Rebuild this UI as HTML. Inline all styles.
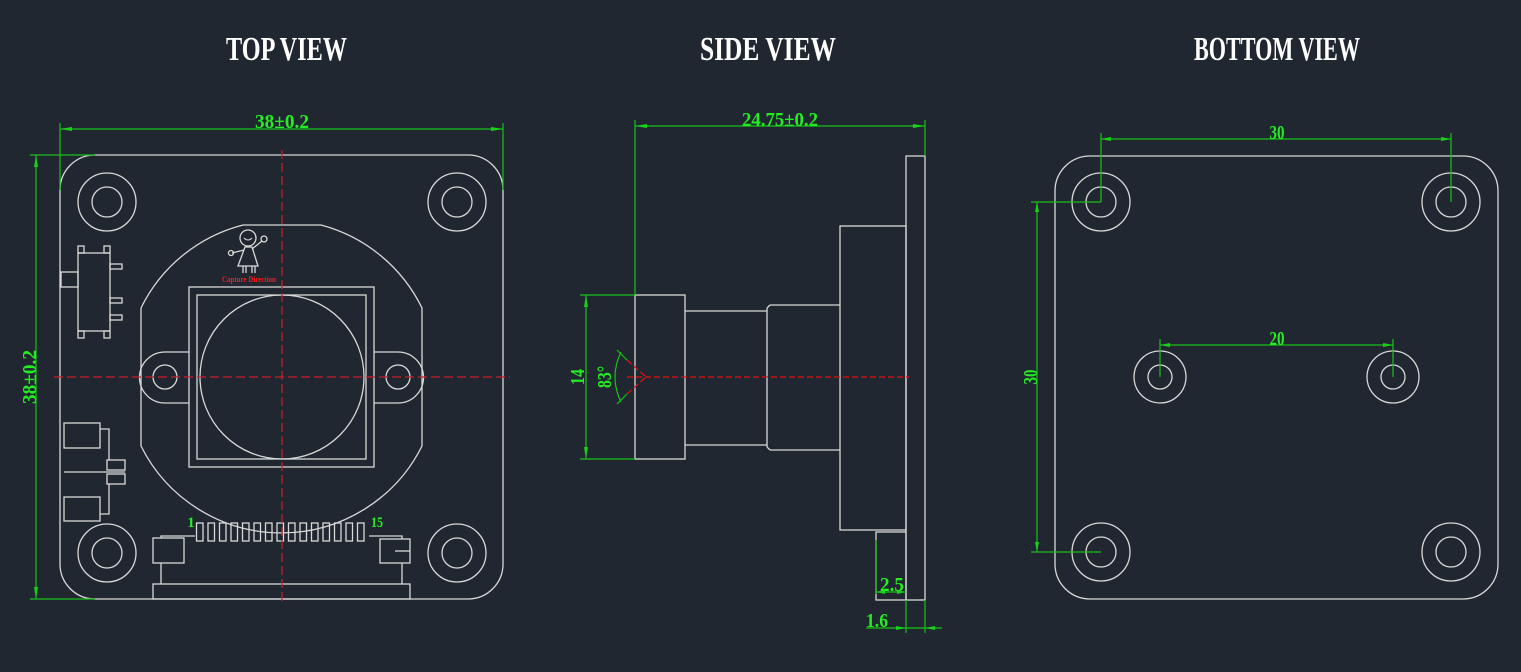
<!DOCTYPE html>
<html><head><meta charset="utf-8"><style>
html,body{margin:0;padding:0;background:#212730;}
svg{display:block}
</style></head><body>
<svg width="1521" height="672" viewBox="0 0 1521 672" xmlns="http://www.w3.org/2000/svg" font-family="'Liberation Serif', serif">
<rect width="1521" height="672" fill="#212730"/>
<g fill="#ffffff" font-size="34" font-weight="bold">
<text x="226" y="60" textLength="121" lengthAdjust="spacingAndGlyphs">TOP VIEW</text>
<text x="700" y="60" textLength="136" lengthAdjust="spacingAndGlyphs">SIDE VIEW</text>
<text x="1194" y="60" textLength="166" lengthAdjust="spacingAndGlyphs">BOTTOM VIEW</text>
</g>

<g fill="none" stroke="#d8d8d8" stroke-width="1.3">
<rect x="60" y="155" width="443" height="444" rx="35"/>
<circle cx="107" cy="202" r="29"/><circle cx="107" cy="202" r="15"/>
<circle cx="457" cy="202" r="29"/><circle cx="457" cy="202" r="15"/>
<circle cx="107" cy="553" r="29"/><circle cx="107" cy="553" r="15"/>
<circle cx="457" cy="553" r="29"/><circle cx="457" cy="553" r="15"/>
<path d="M243,225 L321,225 A157,157 0 0 1 422,308 L422,446 A157,157 0 0 1 141,446 L141,308 A157,157 0 0 1 243,225 Z"/>
<path d="M189,352 L165,352 A25.5,25.5 0 0 0 165,403 L189,403"/>
<path d="M374,352 L398,352 A25.5,25.5 0 0 1 398,403 L374,403"/>
<circle cx="165" cy="377" r="12"/><circle cx="398" cy="377" r="12"/>
<rect x="189" y="287" width="185" height="180" fill="#212730"/>
<rect x="197" y="295" width="169" height="164"/>
<circle cx="282" cy="377" r="82"/>
<rect x="78" y="253" width="32" height="78"/>
<rect x="61" y="272" width="17" height="15"/>
<rect x="78" y="246" width="6" height="7"/><rect x="104" y="246" width="6" height="7"/>
<rect x="78" y="331" width="6" height="7"/><rect x="104" y="331" width="6" height="7"/>
<rect x="110" y="264" width="12" height="5"/><rect x="110" y="298" width="12" height="5"/><rect x="110" y="315" width="12" height="5"/>
<rect x="64" y="423" width="36" height="25"/>
<rect x="64" y="497" width="36" height="24"/>
<path d="M100,429 L109,429 L109,460 M100,514 L109,514 L109,484 M64,472 L125,472"/>
<rect x="107" y="460" width="18" height="10"/>
<rect x="107" y="474" width="18" height="10"/>
<g>
<rect x="196.5" y="523" width="6.5" height="18"/><rect x="208" y="523" width="6.5" height="18"/><rect x="219.5" y="523" width="6.5" height="18"/><rect x="231" y="523" width="6.5" height="18"/><rect x="242.5" y="523" width="6.5" height="18"/><rect x="254" y="523" width="6.5" height="18"/><rect x="265.5" y="523" width="6.5" height="18"/><rect x="277" y="523" width="6.5" height="18"/><rect x="288.5" y="523" width="6.5" height="18"/><rect x="300" y="523" width="6.5" height="18"/><rect x="311.5" y="523" width="6.5" height="18"/><rect x="323" y="523" width="6.5" height="18"/><rect x="334.5" y="523" width="6.5" height="18"/><rect x="346" y="523" width="6.5" height="18"/><rect x="357.5" y="523" width="6.5" height="18"/>
</g>
<path d="M161,538 L161,536 L195,536 M369,536 L402,536 L402,539"/>
<rect x="153" y="538" width="31" height="25"/>
<rect x="380" y="539" width="30" height="24"/>
<path d="M395,551 L410,551"/>
<path d="M161,563 L161,584 M402,563 L402,584"/>
<rect x="153" y="584" width="257" height="15"/>
<circle cx="248" cy="238" r="8"/>
<path d="M244,238 Q248,242 252,238" stroke-width="1"/>
<path d="M245,247 L238,266 L258,266 L252,247 Z"/>
<path d="M244,250 L232,253 M252,249 L262,241"/>
<circle cx="231" cy="253" r="2.5"/><circle cx="264" cy="239" r="3"/>
<path d="M243,266 L243,273 M246,266 L246,273 M252,266 L252,273 M255,266 L255,273"/>
</g>
<text x="249" y="282" fill="#ff1a1a" font-size="8" font-weight="bold" text-anchor="middle" textLength="54" lengthAdjust="spacingAndGlyphs">Capture Direction</text>
<g stroke="#c8202a" stroke-width="1.2" stroke-dasharray="9,4" fill="none">
<path d="M282,150 L282,605"/>
<path d="M54,377 L510,377"/>
</g>
<g stroke="#19c019" stroke-width="1.2" fill="none">
<path d="M60,123 L60,190 M503,123 L503,190 M60,129 L503,129"/>
<path d="M30,155 L95,155 M30,599 L95,599 M36,155 L36,599"/>
</g>
<g fill="#19d019">
<path d="M60,129 L72,127 L72,131Z M503,129 L491,127 L491,131Z M36,155 L34,167 L38,167Z M36,599 L34,587 L38,587Z"/>
</g>
<g fill="#22ee22" font-size="20" font-weight="bold">
<text x="282" y="128" text-anchor="middle" textLength="54" lengthAdjust="spacingAndGlyphs">38±0.2</text>
<text transform="translate(36,377) rotate(-90)" x="0" y="0" text-anchor="middle" textLength="54" lengthAdjust="spacingAndGlyphs">38±0.2</text>
<text x="191" y="527" text-anchor="middle" font-size="15">1</text>
<text x="377" y="527" text-anchor="middle" font-size="15" textLength="12" lengthAdjust="spacingAndGlyphs">15</text>
</g>

<g fill="none" stroke="#d8d8d8" stroke-width="1.3">
<rect x="635" y="295" width="50" height="164"/>
<path d="M685,311 L767,311 M685,445 L767,445"/>
<path d="M770,305 L840,305 M770,450 L840,450 M767,308 L767,447 M767,308 L770,305 M767,447 L770,450"/>
<rect x="840" y="226" width="66" height="304"/>
<rect x="906" y="156" width="19" height="444"/>
<rect x="876" y="532" width="30" height="68"/>
</g>
<g stroke="#e01010" stroke-width="1.2" stroke-dasharray="6,3" fill="none">
<path d="M627,377 L909,377"/>
<path d="M627,360 L646,377 L627,394"/>
</g>
<g stroke="#19c019" stroke-width="1.2" fill="none">
<path d="M635,120 L635,295 M925,120 L925,156 M635,126 L925,126"/>
<path d="M580,295 L635,295 M580,459 L635,459 M586,295 L586,459"/>
<path d="M621,352 Q609,377 621,402 M617,350 L627,360 M617,404 L627,394"/>
<path d="M876,540 L876,594 M876,592 L906,592"/>
<path d="M906,600 L906,633 M925,600 L925,633 M866,628 L942,628"/>
</g>
<g fill="#19d019">
<path d="M635,126 L647,124 L647,128Z M925,126 L913,124 L913,128Z M586,295 L584,307 L588,307Z M586,459 L584,447 L588,447Z"/>
<path d="M876,592 L885,590 L885,594Z M906,592 L897,590 L897,594Z M906,628 L896,626 L896,630Z M925,628 L935,626 L935,630Z"/>
</g>
<g fill="#22ee22" font-size="20" font-weight="bold">
<text x="780" y="126" text-anchor="middle" textLength="76" lengthAdjust="spacingAndGlyphs">24.75±0.2</text>
<text transform="translate(584,377) rotate(-90)" text-anchor="middle" textLength="16" lengthAdjust="spacingAndGlyphs">14</text>
<text transform="translate(611,377) rotate(-90)" text-anchor="middle" textLength="22" lengthAdjust="spacingAndGlyphs">83°</text>
<text x="892" y="591" text-anchor="middle" textLength="24" lengthAdjust="spacingAndGlyphs">2.5</text>
<text x="877" y="627" text-anchor="middle" textLength="22" lengthAdjust="spacingAndGlyphs">1.6</text>
</g>

<g fill="none" stroke="#d8d8d8" stroke-width="1.3">
<rect x="1055" y="156" width="443" height="443" rx="35"/>
<circle cx="1101" cy="202" r="29"/><circle cx="1101" cy="202" r="15"/>
<circle cx="1451" cy="202" r="29"/><circle cx="1451" cy="202" r="15"/>
<circle cx="1101" cy="552" r="29"/><circle cx="1101" cy="552" r="15"/>
<circle cx="1451" cy="552" r="29"/><circle cx="1451" cy="552" r="15"/>
<circle cx="1160" cy="377" r="26"/><circle cx="1160" cy="377" r="12"/>
<circle cx="1393" cy="377" r="26"/><circle cx="1393" cy="377" r="12"/>
</g>
<g stroke="#19c019" stroke-width="1.2" fill="none">
<path d="M1101,133 L1101,202 M1451,133 L1451,202 M1101,139 L1451,139"/>
<path d="M1160,339 L1160,377 M1393,339 L1393,377 M1160,345 L1393,345"/>
<path d="M1031,202 L1101,202 M1031,552 L1101,552 M1037,202 L1037,552"/>
</g>
<g fill="#19d019">
<path d="M1101,139 L1111,137 L1111,141Z M1451,139 L1441,137 L1441,141Z M1160,345 L1170,343 L1170,347Z M1393,345 L1383,343 L1383,347Z M1037,202 L1035,212 L1039,212Z M1037,552 L1035,542 L1039,542Z"/>
</g>
<g fill="#22ee22" font-size="20" font-weight="bold">
<text x="1277" y="139" text-anchor="middle" textLength="15" lengthAdjust="spacingAndGlyphs">30</text>
<text x="1277" y="345" text-anchor="middle" textLength="15" lengthAdjust="spacingAndGlyphs">20</text>
<text transform="translate(1037,377) rotate(-90)" text-anchor="middle" textLength="15" lengthAdjust="spacingAndGlyphs">30</text>
</g>
</svg>
</body></html>
